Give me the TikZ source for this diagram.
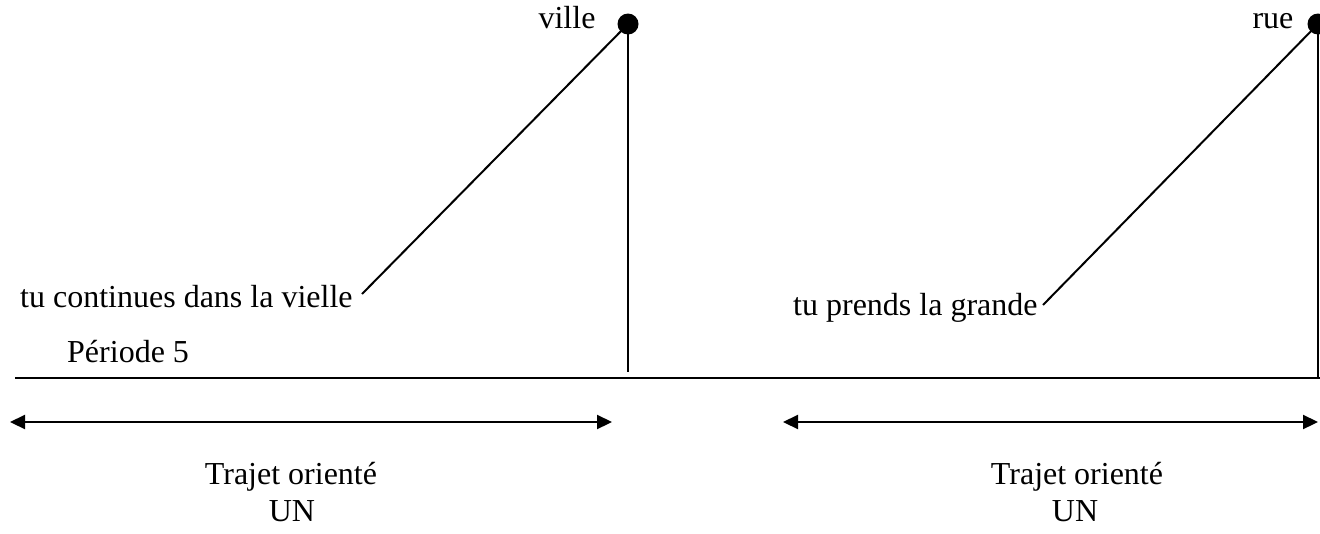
\documentclass[tikz,border=0pt]{standalone}
\usepackage{fontspec}
\setmainfont{Liberation Serif}
\usetikzlibrary{arrows.meta}
\begin{document}
\begin{tikzpicture}[x=1pt,y=-1pt,
  line/.style={line width=2pt},
  lbl/.style={inner sep=0pt,font=\fontsize{32}{36}\selectfont},
  dot/.style={circle,fill=black,inner sep=0pt,minimum size=21pt},
  span/.style={line width=2.2pt,{Triangle[length=15pt,width=14pt]}-{Triangle[length=15pt,width=14pt]}}]
\useasboundingbox (0,0) rectangle (1320,533);
\node[dot] (d1) at (628,24) {};
\node[dot] (d2) at (1318,24) {};
\coordinate (b1) at (628,372);
\coordinate (b2) at (1318,378);
\coordinate (c1) at (362,294);
\coordinate (c2) at (1043,305);
\coordinate (h1) at (15,378);
\coordinate (h2) at (1320,378);
\draw[line] (h1) -- (h2);
\draw[line] (d1.center) -- (b1);
\draw[line] (d1.center) -- (c1);
\draw[line] (d2.center) -- (b2);
\draw[line] (d2.center) -- (c2);
\node[lbl,anchor=base] (t1) at (567,28) {ville};
\node[lbl,anchor=base] (t2) at (1273,28) {rue};
\node[lbl,anchor=base west] (t3) at (20,307) {tu continues dans la vielle};
\node[lbl,anchor=base west] (t4) at (67,362) {Période 5};
\node[lbl,anchor=base west] (t5) at (793,315) {tu prends la grande};
\coordinate (a1) at (10,422);
\coordinate (a2) at (612,422);
\coordinate (a3) at (783,422);
\coordinate (a4) at (1318,422);
\draw[span] (a1) -- (a2);
\draw[span] (a3) -- (a4);
\node[lbl,anchor=base] (tr1) at (291,484) {Trajet orienté};
\node[lbl,anchor=base] (un1) at (292,521) {UN};
\node[lbl,anchor=base] (tr2) at (1077,484) {Trajet orienté};
\node[lbl,anchor=base] (un2) at (1075,521) {UN};
\end{tikzpicture}
\end{document}
